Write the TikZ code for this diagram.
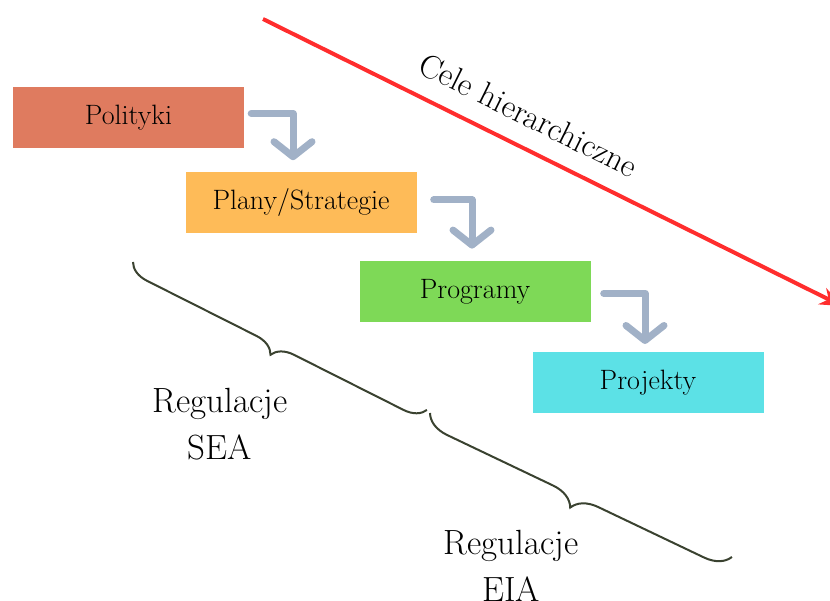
\documentclass[tikz,border=0pt]{standalone}
\usepackage{xcolor}
\usepackage{tikz}
\usetikzlibrary{arrows.meta, positioning, decorations.pathreplacing}

\definecolor{polred}{RGB}{223,123,95}
\definecolor{planorange}{RGB}{254,187,88}
\definecolor{proggreen}{RGB}{126,217,87}
\definecolor{projcyan}{RGB}{92,225,230}
\definecolor{stepgray}{RGB}{161,177,199}
\definecolor{goalred}{RGB}{255,45,45}
\definecolor{bracedark}{RGB}{58,66,48}

\begin{document}
\begin{tikzpicture}[
        x=1pt, y=-1pt,
        box/.style={rectangle, minimum width=231pt, minimum height=61pt, inner sep=0pt,
                    text centered, font=\fontsize{28}{32}\selectfont},
        polbox/.style={box, fill=polred},
        planbox/.style={box, fill=planorange},
        progbox/.style={box, fill=proggreen},
        projbox/.style={box, fill=projcyan},
        bendarrow/.style={draw=stepgray, line width=7pt, line cap=round, line join=round,
                    -{Straight Barb[length=15pt, width=38pt, round]}},
        goalarrow/.style={draw=goalred, line width=4pt, -{Stealth[length=22pt, width=18pt]}},
        regbrace/.style={draw=bracedark, line width=2pt, decorate,
                    decoration={brace, mirror, aspect=0.5}},
        reglabel/.style={align=center, font=\fontsize{35}{47}\selectfont}
    ]
        \useasboundingbox (0,0) rectangle (830,601);
        \clip (0,0) rectangle (830,601);

        % boxes, stepping down to the right
        \node[polbox] at (128.5,117.5) (pol) {Polityki};
        \node[planbox, below=24pt of pol, xshift=172.5pt] (plan) {Plany/Strategie};
        \node[progbox, below=27pt of plan, xshift=174pt] (prog) {Programy};
        \node[projbox, below=30pt of prog, xshift=173pt] (proj) {Projekty};

        \draw[bendarrow] ([xshift=7pt, yshift=4pt]pol.east) -| ([xshift=-8pt, yshift=12pt]plan.north);
        \draw[bendarrow] ([xshift=17pt, yshift=3pt]plan.east) -| ([xshift=-3pt, yshift=12pt]prog.north);
        \draw[bendarrow] ([xshift=13pt, yshift=-2pt]prog.east) -| ([xshift=-3pt, yshift=8pt]proj.north);

        % goal line
        \coordinate (goaltop) at (263,19);
        \coordinate (goalend) at (842,306);
        \draw[goalarrow] (goaltop) -- node[pos=0.434, sloped, above=18pt, inner sep=0pt,
            font=\fontsize{33}{38}\selectfont] (goaltext) {Cele hierarchiczne} (goalend);

        % regulation braces
        \coordinate (seaA) at (133,262);
        \coordinate (seaB) at (427,410);
        \coordinate (eiaA) at (430,413);
        \coordinate (eiaB) at (732,557);
        \draw[regbrace, decoration={amplitude=21pt}] (seaA) -- (seaB);
        \draw[regbrace, decoration={amplitude=25pt}] (eiaA) -- (eiaB);

        \node[reglabel] at (220,424) (sea) {Regulacje\\SEA};
        \node[reglabel] at (511,566) (eia) {Regulacje\\EIA};
    \end{tikzpicture}
\end{document}
